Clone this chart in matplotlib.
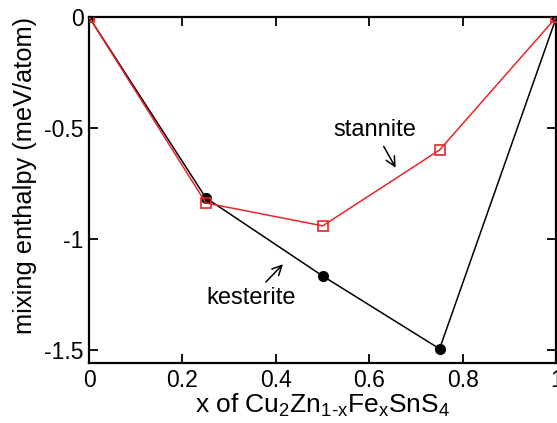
import matplotlib
matplotlib.use('Agg')
import matplotlib.pyplot as plt

plt.rcParams['font.family'] = ['Liberation Sans', 'DejaVu Sans']
plt.rcParams['mathtext.fontset'] = 'custom'
plt.rcParams['mathtext.rm'] = 'Liberation Sans'
plt.rcParams['mathtext.it'] = 'Liberation Sans'

# mixing enthalpy data
x_conc = [0.0, 0.25, 0.5, 0.75, 1.0]
kesterite = [0.0, -0.815, -1.167, -1.495, 0.0]
stannite = [0.0, -0.838, -0.941, -0.599, 0.0]

xticks = [0, 0.2, 0.4, 0.6, 0.8, 1]
xticklabels = ['0', '0.2', '0.4', '0.6', '0.8', '1']
yticks = [0, -0.5, -1, -1.5]
yticklabels = ['0', '-0.5', '-1', '-1.5']

fig = plt.figure(figsize=(5.57, 4.23), dpi=100)
ax = fig.add_axes([0.1598, 0.1418, 0.8392, 0.818])

ax.plot(x_conc, kesterite, '-o', color='black', lw=1.1, ms=7, zorder=3)
ax.plot(x_conc, stannite, '-s', color='#e8262a', lw=1.1, ms=6.5,
        mfc='none', mec='#e8262a', mew=1.2, zorder=4)

ax.set_xlim(0, 1)
ax.set_ylim(-1.559, 0)
ax.set_xticks(xticks)
ax.set_xticklabels(xticklabels)
ax.set_yticks(yticks)
ax.set_yticklabels(yticklabels)
ax.tick_params(direction='in', length=6.5, width=1.3, labelsize=16.5,
               top=True, right=True, pad=4)
for s in ax.spines.values():
    s.set_linewidth(1.6)

ax.set_xlabel('x of Cu$_{2}$Zn$_{1\\text{-}x}$Fe$_{x}$SnS$_{4}$',
              fontsize=19, labelpad=0)
ax.set_ylabel('mixing enthalpy (meV/atom)', fontsize=18.3)
ax.yaxis.set_label_coords(-0.112, 0.543)

ax.annotate('stannite', xy=(0.659, -0.69), xytext=(0.611, -0.51),
            fontsize=17, ha='center', va='center',
            arrowprops=dict(arrowstyle='->', color='black', lw=1.1))
ax.annotate('kesterite', xy=(0.419, -1.105), xytext=(0.346, -1.265),
            fontsize=17, ha='center', va='center',
            arrowprops=dict(arrowstyle='->', color='black', lw=1.1))

fig.savefig('out.png', dpi=100)
